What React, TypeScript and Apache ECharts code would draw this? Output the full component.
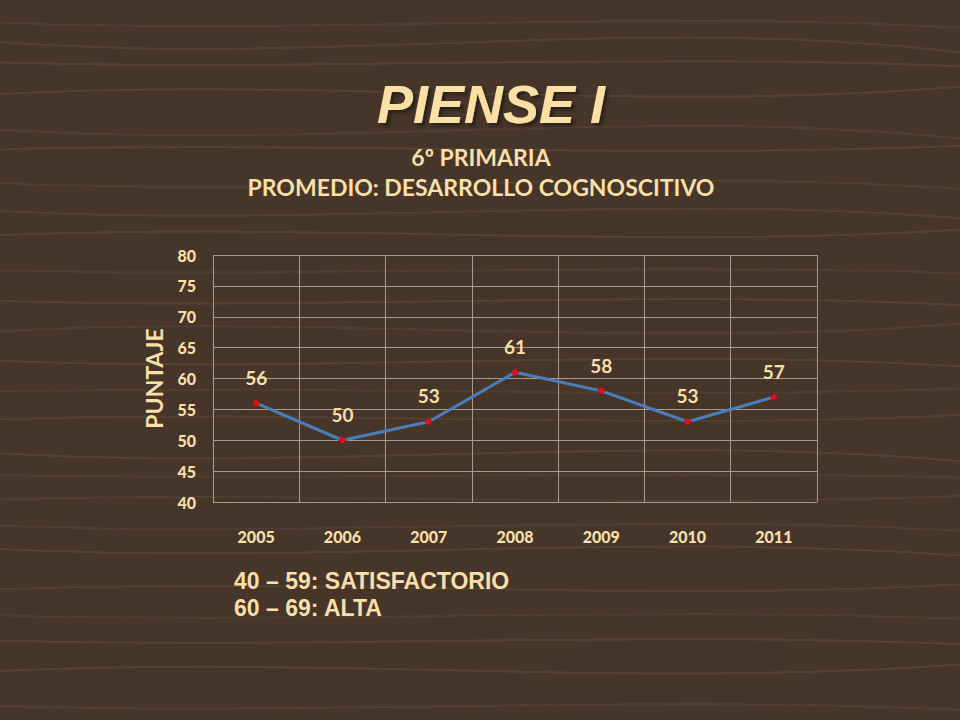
import { useEffect, useRef } from 'react'
import * as echarts from 'echarts'

// 数据
const years = ['2005', '2006', '2007', '2008', '2009', '2010', '2011']
const puntaje = [56, 50, 53, 61, 58, 53, 57]
const yMin = 40
const yMax = 80
const yStep = 5
const legendLines = ['40 – 59: SATISFACTORIO', '60 – 69: ALTA']

const cream = '#f9dfa8'

// 木纹背景的几条纹理线
const grain = [
  [22, 14, 0.16], [40, 30, 0.18], [62, 10, 0.22], [95, -20, 0.2], [128, 25, 0.15], [150, -10, 0.2],
  [182, 16, 0.14], [210, 20, 0.18], [236, -15, 0.22], [270, 8, 0.14], [300, 12, 0.2], [332, -20, 0.16],
  [360, 15, 0.2], [392, -8, 0.14], [420, -12, 0.18], [452, 22, 0.22], [475, 6, 0.14], [500, -10, 0.16],
  [525, 14, 0.14], [548, 18, 0.2], [590, -14, 0.18], [615, 9, 0.14], [640, 10, 0.2], [672, -18, 0.22],
  [705, 12, 0.16],
]

const PiensePage = () => {
  const chartRef = useRef<HTMLDivElement>(null)

  useEffect(() => {
    if (!chartRef.current) return
    const chart = echarts.init(chartRef.current, null, { renderer: 'svg' })

    const grainLines = grain.map(([y, d, o]) => ({
      type: 'bezierCurve',
      silent: true,
      z: -10,
      shape: { x1: -20, y1: y, x2: 980, y2: y + d * 0.5, cpx1: 320, cpy1: y + d, cpx2: 640, cpy2: y - d },
      style: { stroke: '#8a7355', lineWidth: 2, opacity: o, fill: null },
    }))

    chart.setOption({
      animation: false,
      backgroundColor: '#46362a',
      title: [
        {
          text: 'PIENSE I',
          left: 486,
          top: 72,
          textAlign: 'center',
          textStyle: {
            fontFamily: 'Liberation Sans',
            fontStyle: 'italic',
            fontWeight: 'bold',
            fontSize: 54,
            color: '#fbe0a6',
            textShadowColor: 'rgba(40,30,20,0.9)',
            textShadowOffsetX: 3,
            textShadowOffsetY: 3,
            textShadowBlur: 3,
          },
        },
        {
          text: '6º PRIMARIA',
          left: 476,
          top: 140,
          textAlign: 'center',
          textStyle: { fontFamily: 'Lato', fontWeight: 'bold', fontSize: 23, color: cream },
        },
        {
          text: 'PROMEDIO: DESARROLLO COGNOSCITIVO',
          left: 476,
          top: 170,
          textAlign: 'center',
          textStyle: { fontFamily: 'Lato', fontWeight: 'bold', fontSize: 23, color: cream },
        },
      ],
      graphic: [
        ...grainLines,
        {
          type: 'text',
          left: 234,
          top: 567,
          style: {
            text: legendLines.join('\n'),
            fill: cream,
            font: 'bold 23px "Liberation Sans"',
            lineHeight: 27,
          },
        },
      ],
      grid: { left: 213, right: 143, top: 255, bottom: 218 },
      xAxis: {
        type: 'category',
        data: years,
        boundaryGap: true,
        axisLine: { show: false },
        axisTick: { show: false },
        axisLabel: { color: cream, fontFamily: 'Lato', fontWeight: 900, fontSize: 16, margin: 26 },
        splitLine: { show: true, lineStyle: { color: '#a89c8c', width: 1 } },
      },
      yAxis: {
        type: 'value',
        min: yMin,
        max: yMax,
        interval: yStep,
        name: 'PUNTAJE',
        nameLocation: 'middle',
        nameGap: 48,
        nameRotate: 90,
        nameTextStyle: { color: cream, fontFamily: 'Lato', fontWeight: 'bold', fontSize: 23 },
        axisLine: { show: false },
        axisTick: { show: false },
        axisLabel: { color: cream, fontFamily: 'Lato', fontWeight: 900, fontSize: 16, margin: 17 },
        splitLine: { show: true, lineStyle: { color: '#a89c8c', width: 1 } },
      },
      series: [
        {
          type: 'line',
          data: puntaje,
          symbol: 'diamond',
          symbolSize: 8,
          lineStyle: { color: '#4a7ebb', width: 3 },
          itemStyle: { color: '#e0101a', borderColor: '#8a1010', borderWidth: 0.5 },
          label: {
            show: true,
            position: 'top',
            distance: 12,
            color: cream,
            fontFamily: 'Lato',
            fontWeight: 'bold',
            fontSize: 19,
          },
        },
      ],
    })

    return () => chart.dispose()
  }, [])

  return (
    <div
      ref={chartRef}
      style={{ position: 'fixed', left: 0, top: 0, width: 960, height: 720 }}
    />
  )
}

export default function App() {
  return <PiensePage />
}
